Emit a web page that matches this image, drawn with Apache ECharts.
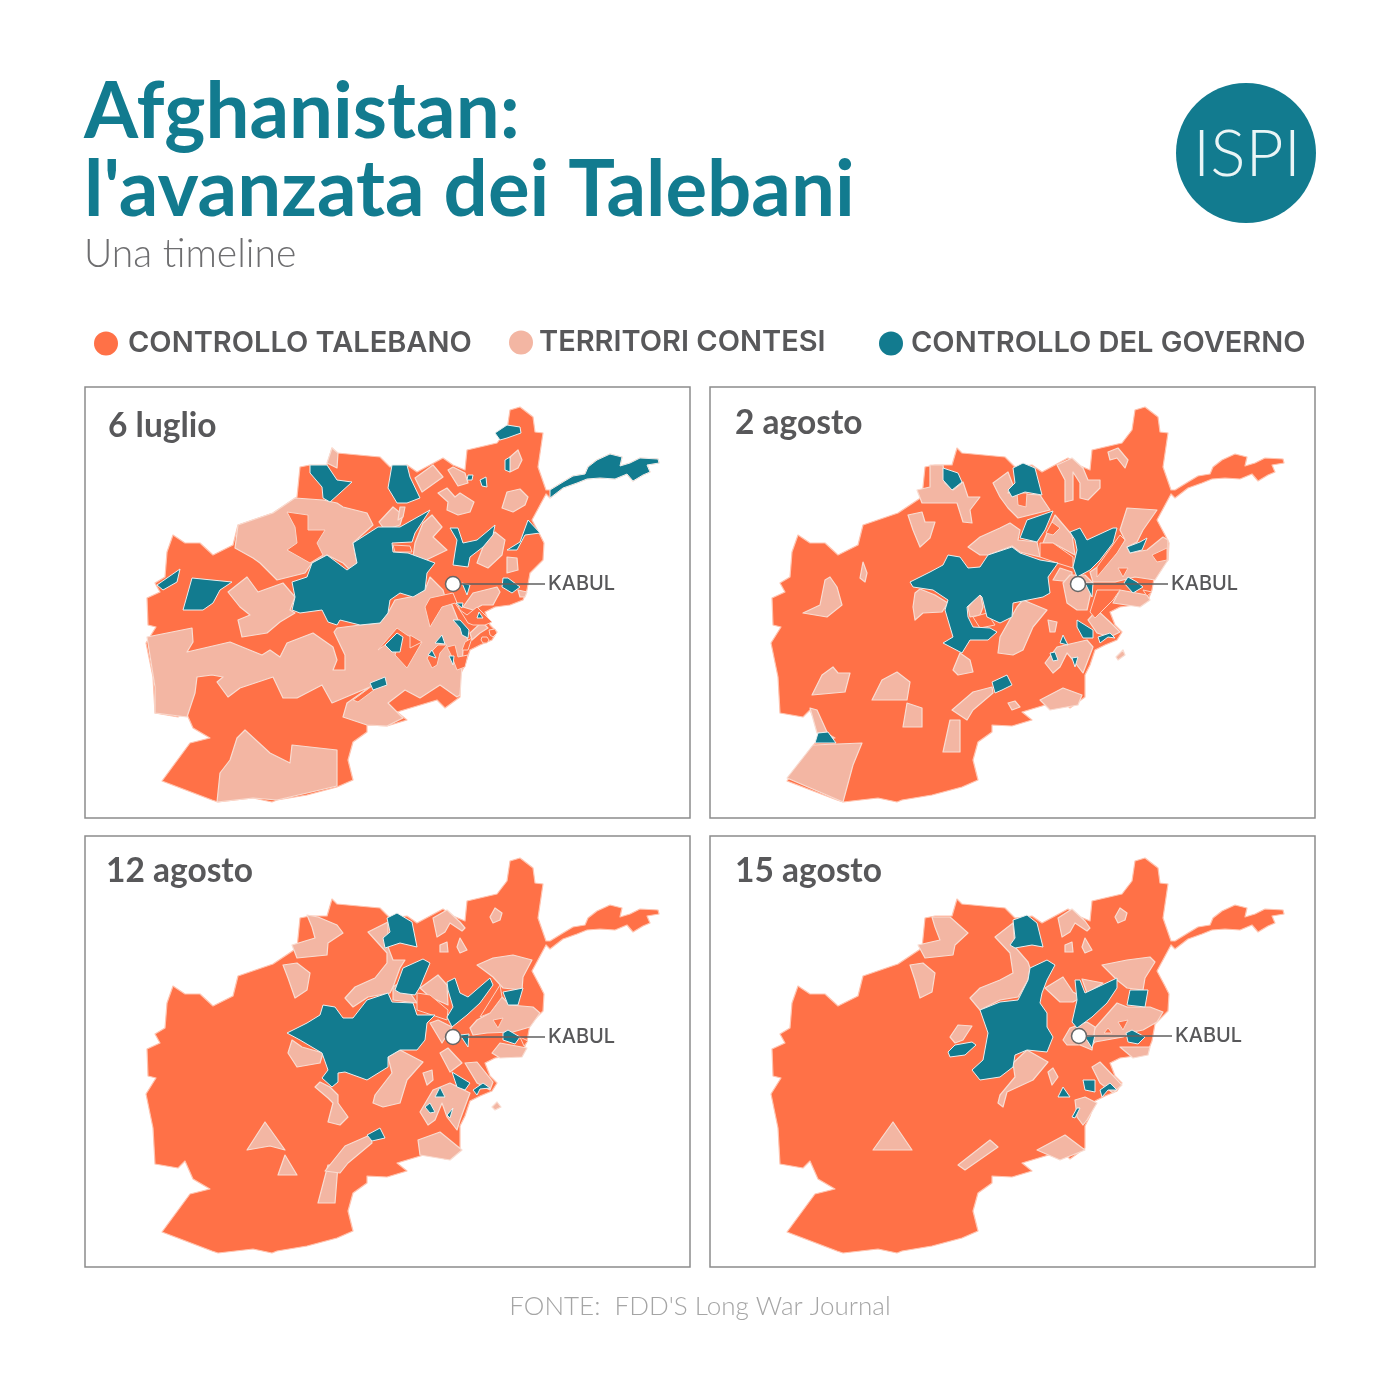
<!DOCTYPE html>
<html><head><meta charset="utf-8">
<style>html,body{margin:0;padding:0;background:#fff}#c{width:1400px;height:1400px}</style>
<script src="https://cdn.jsdelivr.net/npm/echarts@6/dist/echarts.min.js"></script>
</head><body><div id="c"></div>
<script>
const TITLE = "Afghanistan:\nl'avanzata dei Talebani";
const SUBTITLE = "Una timeline";
const SOURCE = "FONTE:  FDD'S Long War Journal";
const STATUS_NAMES = ["CONTROLLO TALEBANO","TERRITORI CONTESI","CONTROLLO DEL GOVERNO"];
const DATES = ["6 luglio","2 agosto","12 agosto","15 agosto"];

// Shared country outline, map units
const outline = [[510,410],[520,407],[533,417],[535,432],[543,433],[538,467],[546,490],[550,490],[563,482],[573,476],[585,474],[588,467],[597,460],[610,454],[622,457],[620,466],[630,463],[640,458],[658,459],[659,463],[647,465],[650,472],[643,475],[633,481],[627,474],[615,479],[600,478],[587,479],[577,483],[563,488],[550,498],[546,494],[532,520],[540,535],[544,543],[543,560],[530,573],[527,590],[523,600],[510,605],[495,607],[485,612],[490,625],[497,632],[492,640],[480,645],[470,650],[465,665],[460,675],[460,697],[445,708],[437,700],[397,712],[407,720],[387,726],[367,725],[367,732],[353,742],[348,760],[353,780],[337,787],[307,795],[277,800],[272,802],[253,798],[218,802],[212,800],[162,781],[190,743],[210,738],[193,728],[185,710],[178,717],[155,713],[153,677],[146,643],[156,627],[148,625],[147,598],[160,592],[155,583],[165,577],[167,552],[173,535],[185,543],[200,543],[213,555],[233,545],[238,525],[273,513],[297,497],[300,467],[310,465],[327,465],[332,448],[337,453],[380,457],[390,467],[407,465],[417,472],[443,458],[453,465],[465,470],[467,450],[497,443],[507,430]];

// 6 luglio
const jul6Contested = [
 [[147,637],[192,628],[193,642],[187,652],[230,642],[262,655],[270,650],[280,657],[287,643],[313,633],[333,647],[337,660],[333,670],[345,670],[345,655],[334,632],[337,628],[360,625],[380,623],[388,613],[395,600],[410,597],[425,590],[430,577],[443,590],[445,597],[452,605],[460,625],[468,640],[463,650],[462,665],[460,695],[457,697],[440,685],[420,698],[405,690],[388,703],[403,718],[387,726],[367,725],[343,717],[347,703],[370,687],[332,703],[322,685],[297,698],[283,698],[273,677],[240,688],[228,697],[217,682],[223,677],[212,675],[197,677],[195,693],[187,717],[155,713],[155,687]],
 [[245,730],[237,738],[230,760],[220,773],[217,802],[253,798],[277,800],[337,786],[337,750],[292,745],[290,763],[270,753]],
 [[238,525],[273,513],[295,498],[323,500],[337,503],[343,507],[367,513],[373,525],[353,543],[357,563],[350,570],[343,563],[327,555],[312,563],[305,573],[277,580],[260,563],[253,558],[235,548]],
 [[327,463],[332,448],[338,453],[337,468]],
 [[228,592],[247,577],[258,592],[283,583],[295,597],[290,610],[295,613],[280,622],[267,633],[242,637],[238,620],[250,615],[240,607]],
 [[379,522],[393,507],[403,515],[400,525],[385,530]],
 [[400,507],[405,507],[403,517],[398,520]],
 [[415,478],[433,465],[443,477],[422,492]],
 [[448,470],[453,467],[465,473],[468,483],[458,486]],
 [[438,493],[447,488],[455,497],[460,493],[474,502],[470,512],[458,515],[447,510],[448,502]],
 [[502,508],[507,492],[520,489],[528,497],[525,505],[513,512]],
 [[507,468],[510,457],[518,450],[522,460],[518,468],[510,472]],
 [[432,515],[442,527],[433,537],[447,550],[420,563],[413,557],[415,543],[423,523]],
 [[495,532],[505,540],[502,555],[488,568],[477,563],[483,547]],
 [[507,557],[517,558],[518,570],[507,573]],
 [[463,607],[473,593],[497,587],[500,592],[493,605],[482,605],[473,610]],
 [[518,590],[527,592],[525,597],[520,597]],
 [[470,633],[482,622],[488,628],[480,633],[472,640]]
];
const jul6Taliban = [
 [[287,512],[308,515],[308,530],[325,530],[317,543],[323,555],[310,563],[287,550],[297,543],[295,527]],
 [[333,572],[342,572],[342,587],[333,592],[325,585]],
 [[393,545],[410,546],[412,552],[395,552]],
 [[378,650],[397,628],[407,635],[422,642],[407,668],[395,655],[400,640],[385,645]],
 [[410,635],[422,642],[410,648]],
 [[353,700],[372,686],[374,690],[358,702]],
 [[425,607],[430,598],[453,593],[460,610],[467,615],[477,607],[492,622],[485,625],[473,625],[468,623],[463,615],[455,603],[442,607],[430,627]],
 [[465,642],[472,638],[468,650],[462,650]],
 [[447,647],[455,645],[458,657],[468,655],[465,667],[457,670],[452,657]],
 [[427,658],[433,650],[438,645],[447,645],[440,653],[437,665],[432,668]],
 [[482,637],[487,637],[489,640],[487,643],[483,643],[481,640]],
 [[489,630],[495,629],[497,633],[493,637],[490,635]]
];
const jul6Gov = [
 [[378,527],[353,543],[357,563],[347,570],[327,555],[312,563],[307,577],[292,582],[295,597],[292,610],[300,613],[322,610],[328,622],[337,625],[340,620],[360,625],[380,623],[388,613],[390,600],[400,593],[413,597],[425,590],[427,573],[435,563],[408,553],[393,552],[392,543],[412,542],[415,533],[430,510],[400,527]],
 [[310,465],[327,465],[337,480],[352,482],[340,493],[330,502],[323,498],[322,487],[310,473]],
 [[392,465],[407,465],[410,477],[420,498],[407,503],[397,503],[388,488]],
 [[183,610],[192,578],[232,582],[220,590],[213,603],[203,610]],
 [[157,585],[180,569],[177,582],[163,590]],
 [[385,645],[397,633],[403,637],[400,652],[392,652]],
 [[370,683],[385,677],[387,685],[373,690]],
 [[495,433],[507,425],[520,427],[521,433],[507,438],[500,440]],
 [[505,460],[510,457],[510,472],[505,470]],
 [[468,475],[473,475],[472,480],[467,480]],
 [[480,480],[486,477],[487,487],[482,486]],
 [[450,528],[458,528],[463,543],[477,540],[495,525],[493,535],[483,547],[470,557],[468,567],[453,565],[455,552],[457,540]],
 [[507,550],[520,542],[528,520],[540,533],[525,535],[517,550]],
 [[462,583],[470,585],[467,595]],
 [[503,578],[508,578],[520,587],[512,593],[502,587]],
 [[456,603],[463,603],[462,608]],
 [[453,620],[460,620],[469,630],[468,638],[462,635],[460,628]],
 [[477,618],[479,612],[483,618]],
 [[435,643],[442,635],[445,644]],
 [[428,655],[432,650],[436,658]],
 [[449,656],[454,656],[453,665]],
 [[550,490],[563,482],[573,476],[585,474],[588,467],[597,460],[610,454],[622,457],[620,466],[630,463],[640,458],[658,459],[659,463],[647,465],[650,472],[643,475],[633,481],[627,474],[615,479],[600,478],[587,479],[577,483],[563,488],[550,498]]
];

// 2 agosto
const aug2Contested = [
 [[162,778],[188,745],[237,743],[228,765],[218,802]],
 [[185,708],[192,710],[202,732],[192,733]],
 [[178,613],[195,605],[200,580],[205,577],[212,587],[217,605],[202,617]],
 [[235,578],[238,562],[242,573],[240,582]],
 [[187,695],[197,675],[208,667],[213,673],[225,673],[220,692]],
 [[247,700],[257,680],[272,672],[285,682],[282,700]],
 [[278,727],[282,703],[297,708],[297,727]],
 [[318,752],[325,720],[335,720],[335,752]],
 [[327,710],[348,692],[367,687],[368,693],[348,710],[342,720]],
 [[383,703],[390,701],[395,707],[387,710]],
 [[415,700],[438,688],[457,695],[453,705],[425,710]],
 [[290,593],[295,589],[310,595],[323,603],[317,612],[298,613],[290,620],[288,607]],
 [[343,607],[355,593],[358,607],[355,615],[345,617]],
 [[373,653],[375,637],[392,607],[398,600],[422,610],[408,627],[398,650],[388,655]],
 [[343,547],[355,537],[375,528],[385,523],[395,530],[393,540],[412,542],[415,557],[395,552],[387,546],[363,555],[355,555]],
 [[422,533],[430,515],[447,535],[450,555],[428,543],[418,543]],
 [[435,568],[447,572],[447,582],[428,580]],
 [[368,483],[383,472],[388,485],[383,493],[415,495],[425,510],[405,515],[393,518],[383,508],[375,497]],
 [[305,465],[318,465],[320,483],[328,490],[338,482],[343,497],[355,497],[345,510],[347,523],[338,522],[332,503],[297,503],[292,490],[305,487]],
 [[283,515],[297,512],[300,522],[310,522],[305,538],[295,547],[288,530]],
 [[432,465],[447,458],[458,468],[463,480],[475,480],[475,488],[463,500],[455,498],[455,483],[448,472],[448,500],[440,502],[440,480]],
 [[483,452],[493,448],[503,460],[500,468],[492,458],[485,460]],
 [[495,530],[502,508],[532,510],[518,530],[512,542],[502,547],[505,553],[522,550],[538,537],[543,540],[543,560],[530,580],[510,577],[490,582],[468,582],[465,572],[490,555],[500,540]],
 [[438,583],[445,575],[460,575],[468,583],[462,610],[452,610],[442,603]],
 [[488,603],[495,590],[522,595],[525,600],[515,607]],
 [[463,620],[472,610],[485,622],[495,632],[485,637],[472,633]],
 [[420,663],[432,647],[462,640],[468,647],[458,673],[448,660],[442,653],[435,667],[428,673]],
 [[423,620],[432,622],[430,632],[425,632]],
 [[491,657],[498,650],[500,655],[493,660]],
 [[328,670],[335,653],[345,660],[348,672],[333,675]]
];
const aug2Taliban = [
 [[323,582],[340,570],[337,593],[325,590]],
 [[348,617],[362,613],[370,625],[355,628]],
 [[415,543],[428,543],[448,557],[448,568],[432,563],[415,557]],
 [[427,522],[435,528],[428,535],[421,533]],
 [[392,493],[402,493],[401,507],[393,505]],
 [[472,567],[495,535],[500,540],[492,553],[472,577]],
 [[527,555],[542,548],[542,560],[532,562]],
 [[493,568],[503,568],[498,577]],
 [[518,590],[527,592],[522,596]],
 [[465,612],[472,590],[495,590],[488,600],[470,618]]
];
const aug2Gov = [
 [[285,582],[305,572],[318,565],[323,555],[335,557],[343,568],[355,567],[363,555],[387,547],[395,553],[415,560],[433,563],[423,577],[425,593],[418,597],[388,603],[387,617],[375,623],[362,617],[357,597],[355,595],[342,607],[343,617],[348,627],[365,628],[372,632],[363,640],[345,640],[337,653],[318,643],[328,637],[320,610],[323,600],[308,590],[288,587]],
 [[395,538],[402,520],[428,511],[420,530],[412,542]],
 [[388,468],[398,463],[410,468],[417,495],[400,492],[387,497],[383,490],[390,483]],
 [[318,468],[333,473],[337,482],[327,490],[318,480]],
 [[445,532],[455,528],[462,540],[488,528],[492,528],[488,543],[475,560],[465,570],[452,577],[448,567],[452,550],[450,540]],
 [[502,547],[515,542],[522,538],[517,550],[505,553]],
 [[499,583],[503,577],[512,582],[518,587],[508,593]],
 [[460,583],[468,583],[467,597]],
 [[452,620],[468,630],[468,638],[458,638],[452,627]],
 [[473,637],[485,633],[490,638],[483,637],[475,643]],
 [[435,643],[438,635],[443,645]],
 [[425,653],[430,652],[433,660],[428,661]],
 [[447,658],[453,657],[450,667]],
 [[367,682],[382,675],[387,685],[377,690],[370,693]],
 [[190,743],[193,733],[203,732],[211,743]]
];

// 12 agosto
const aug12Contested = [
 [[345,547],[355,536],[375,527],[387,512],[387,502],[368,481],[388,471],[388,496],[393,509],[405,509],[400,517],[393,536],[390,542],[368,546],[353,556]],
 [[393,536],[402,530],[417,552],[393,549]],
 [[307,464],[318,466],[337,474],[343,482],[328,492],[327,504],[297,507],[292,494],[315,487],[312,476]],
 [[283,514],[297,512],[310,522],[307,539],[295,547],[288,527]],
 [[433,467],[447,459],[460,471],[465,477],[462,480],[450,472],[445,481],[437,486]],
 [[440,494],[447,491],[448,501],[440,501]],
 [[457,496],[460,487],[467,499],[460,502]],
 [[490,466],[495,457],[502,462],[500,469],[493,472]],
 [[477,514],[493,507],[513,504],[532,509],[523,526],[522,539],[503,537],[493,526]],
 [[470,577],[477,569],[490,562],[502,546],[510,554],[533,556],[540,562],[530,576],[513,581],[487,582],[473,584]],
 [[492,602],[500,592],[527,597],[522,606],[500,607]],
 [[420,537],[438,524],[447,534],[448,554],[430,546]],
 [[430,572],[438,569],[452,576],[442,592]],
 [[440,602],[448,597],[462,612],[450,621]],
 [[465,612],[477,611],[493,631],[490,639],[477,632]],
 [[423,622],[432,619],[433,629],[427,634]],
 [[420,661],[433,639],[450,632],[470,642],[460,669],[457,679],[447,666],[442,652],[435,669],[428,674]],
 [[492,656],[497,651],[501,656],[495,659]],
 [[315,636],[320,631],[330,636],[338,644],[338,652],[348,666],[340,674],[328,671],[333,652],[328,647]],
 [[373,652],[375,644],[392,622],[388,606],[400,599],[423,611],[407,629],[400,652],[383,656]],
 [[288,602],[292,589],[302,596],[323,602],[320,612],[297,616]],
 [[325,582],[335,574],[345,574],[338,589],[332,592]],
 [[247,699],[265,671],[285,699],[270,695]],
 [[278,724],[285,704],[297,724]],
 [[318,752],[328,714],[338,714],[335,752]],
 [[325,720],[345,695],[370,684],[372,692],[348,712],[340,722]],
 [[418,689],[440,681],[462,699],[450,709],[420,704]]
];
const aug12Taliban = [
 [[417,542],[430,544],[448,559],[447,569],[417,559]],
 [[480,566],[500,534],[502,546],[490,562]],
 [[493,569],[503,567],[498,577]],
 [[520,586],[528,590],[524,595]]
];
const aug12Gov = [
 [[287,582],[307,572],[320,564],[323,554],[335,556],[343,567],[353,567],[367,549],[388,542],[392,551],[413,552],[417,564],[435,564],[427,572],[425,589],[417,599],[400,599],[388,606],[388,616],[367,629],[345,621],[338,622],[338,631],[332,636],[322,627],[328,619],[322,602],[300,589]],
 [[395,539],[403,517],[423,508],[430,512],[420,536],[415,544],[400,542]],
 [[387,467],[397,462],[412,471],[417,496],[400,492],[385,497],[383,487],[390,481]],
 [[447,531],[455,527],[460,542],[468,546],[490,527],[493,534],[480,552],[467,564],[452,576],[447,566],[453,556],[448,539]],
 [[503,541],[523,537],[518,554],[508,554]],
 [[503,582],[508,579],[520,586],[515,593],[503,589]],
 [[460,584],[469,583],[468,596]],
 [[452,621],[470,632],[465,639],[457,636]],
 [[473,639],[483,632],[490,637],[480,638],[477,644]],
 [[425,656],[430,652],[435,661],[430,662]],
 [[435,646],[440,636],[445,646]],
 [[447,664],[453,657],[450,667]],
 [[367,684],[380,677],[385,687],[372,690]]
];

// 15 agosto
const aug15Contested = [
 [[345,547],[355,537],[375,529],[388,522],[385,502],[370,486],[388,472],[390,496],[403,511],[405,517],[403,529],[393,546],[375,549],[355,559]],
 [[307,466],[325,466],[343,482],[330,494],[328,504],[300,507],[293,494],[315,489],[310,476]],
 [[285,514],[298,512],[310,522],[307,541],[295,547],[290,529]],
 [[325,586],[333,574],[347,575],[338,589],[330,592]],
 [[373,652],[375,644],[390,626],[388,612],[402,599],[423,611],[408,629],[382,641],[378,656]],
 [[420,537],[438,526],[448,541],[457,546],[448,551],[435,551]],
 [[457,528],[478,532],[462,542]],
 [[477,514],[502,509],[525,506],[530,511],[520,527],[518,539],[502,537],[492,529]],
 [[470,577],[492,552],[502,556],[525,556],[538,561],[532,571],[518,579],[508,581],[498,586],[470,591],[465,596]],
 [[495,596],[525,596],[523,604],[508,607]],
 [[438,589],[445,577],[462,571],[470,576],[467,599],[455,594],[442,594]],
 [[423,621],[428,617],[433,626],[427,634]],
 [[467,616],[475,611],[497,634],[488,642],[475,632]],
 [[450,649],[460,646],[472,652],[462,669],[458,674],[452,666]],
 [[433,467],[447,458],[460,470],[465,477],[462,480],[450,472],[445,481],[437,486]],
 [[440,494],[447,491],[448,501],[440,501]],
 [[457,496],[460,487],[467,499],[460,502]],
 [[490,466],[495,457],[502,462],[500,469],[493,472]],
 [[248,699],[268,671],[287,699]],
 [[333,714],[365,689],[373,696],[340,719]],
 [[412,699],[440,684],[460,699],[435,709]]
];
const aug15Taliban = [
 [[388,572],[398,566],[412,571],[413,581],[395,579]],
 [[493,571],[503,569],[498,579]],
 [[479,582],[483,577],[487,582]]
];
const aug15Gov = [
 [[430,514],[422,509],[405,517],[403,529],[393,549],[375,551],[355,559],[363,582],[358,609],[347,619],[355,629],[375,626],[388,616],[390,604],[402,599],[422,601],[428,586],[422,576],[422,562],[415,552],[417,542],[422,529]],
 [[388,469],[402,464],[412,472],[418,496],[407,494],[390,497],[385,494],[390,487]],
 [[323,601],[330,594],[347,591],[351,594],[340,604],[325,606]],
 [[450,529],[455,529],[460,542],[492,527],[492,537],[482,552],[467,566],[452,577],[447,571],[452,549]],
 [[505,539],[523,539],[520,556],[502,554]],
 [[501,582],[507,579],[520,586],[513,593],[503,591]],
 [[460,586],[470,584],[467,597]],
 [[458,629],[470,629],[470,641],[460,639]],
 [[475,639],[485,632],[492,639],[483,639],[477,646]],
 [[433,646],[438,636],[445,646]],
 [[447,666],[452,657],[455,657],[450,667]]
];

const panelContested = [jul6Contested, aug2Contested, aug12Contested, aug15Contested];
const panelTaliban = [jul6Taliban, aug2Taliban, aug12Taliban, aug15Taliban];
const panelGov = [jul6Gov, aug2Gov, aug12Gov, aug15Gov];
const kabulPoint = [[453,584],[453,584],[453,586],[454,585]];
const kabulLabelEnd = [[545,584],[543,584],[545,586],[547,585]];

const COL = {tal:'#FF7147', con:'#F3B6A3', gov:'#127B8F'};
const PANELS = [{x:85,y:387,dx:0,dy:0},{x:710,y:387,dx:625,dy:0},{x:85,y:836,dx:0,dy:451},{x:710,y:836,dx:625,dy:451}];
const DATE_POS = [[108,426],[735,423],[106,871],[735,871]];
const FRAME = {x:85,y:387,w:605,h:431};

function buildMap(i){
  const feats=[], regions=[];
  const add=(name,poly,color,stroke,w)=>{
    const ring = poly.map(p=>[p[0],-p[1]]); ring.push(ring[0]);
    feats.push({type:'Feature',properties:{name},geometry:{type:'Polygon',coordinates:[ring]}});
    regions.push({name,itemStyle:{areaColor:color,borderColor:stroke,borderWidth:w,borderJoin:'round'}});
  };
  add('base',outline,COL.tal,'#FFC4B0',1.2);
  panelContested[i].forEach((p,k)=>add('c'+k,p,COL.con,'#F9DCD1',1.2));
  panelTaliban[i].forEach((p,k)=>add('t'+k,p,COL.tal,'#FBD3C5',1));
  panelGov[i].forEach((p,k)=>add('g'+k,p,COL.gov,'#E9EFEF',1));
  echarts.registerMap('afg'+i,{type:'FeatureCollection',features:feats});
  return regions;
}

const geos=[], series=[], graphic=[];
PANELS.forEach((P,i)=>{
  const regions=buildMap(i);
  geos.push({map:'afg'+i,silent:true,roam:false,aspectScale:1,
    left:FRAME.x+P.dx,top:FRAME.y+P.dy,width:FRAME.w,height:FRAME.h,
    boundingCoords:[[FRAME.x,-FRAME.y],[FRAME.x+FRAME.w,-(FRAME.y+FRAME.h)]],
    label:{show:false},itemStyle:{areaColor:COL.tal,borderColor:'#fff',borderWidth:1},
    emphasis:{disabled:true},select:{disabled:true},regions});
  const k=kabulPoint[i], e=kabulLabelEnd[i];
  series.push({type:'lines',coordinateSystem:'geo',geoIndex:i,silent:true,z:5,
    lineStyle:{color:'#5f5f5f',width:1.5,opacity:1,curveness:0},
    label:{show:true,position:'end',distance:3,formatter:'KABUL',fontFamily:'Inter',fontSize:20,color:'#58585A',fontWeight:500,letterSpacing:-0.5,padding:[2,0,0,0]},
    data:[{coords:[[k[0],-k[1]],[e[0],-e[1]]]}]});
  series.push({type:'scatter',coordinateSystem:'geo',geoIndex:i,silent:true,z:6,symbol:'circle',symbolSize:15,
    itemStyle:{color:'#fff',borderColor:'#666',borderWidth:1.5,opacity:1},data:[[k[0],-k[1]]]});
  graphic.push({type:'rect',z:1,silent:true,shape:{x:P.x,y:P.y,width:605,height:431},style:{fill:'none',stroke:'#8C8C8C',lineWidth:1.5}});
  graphic.push({type:'text',z:20,silent:true,x:DATE_POS[i][0],y:DATE_POS[i][1],style:{text:DATES[i],font:'700 33.5px Lato',fill:'#58585A',textVerticalAlign:'middle'}});
});

// legend carrier series
[COL.tal,COL.con,COL.gov].forEach((c,i)=>series.push({type:'scatter',coordinateSystem:'geo',geoIndex:0,name:STATUS_NAMES[i],symbol:'circle',itemStyle:{color:c,opacity:1},data:[]}));
const legendAt=[[94,329],[509,328],[879,329]];
const legendGap=[5,1,3];
const legends=STATUS_NAMES.map((n,i)=>({data:[n],left:legendAt[i][0],top:legendAt[i][1],orient:'horizontal',icon:'circle',itemWidth:24,itemHeight:24,itemGap:0,padding:0,selectedMode:false,
  itemStyle:{opacity:1},
  textStyle:{fontFamily:'Inter',fontWeight:600,fontSize:29,color:'#58585A',padding:[7,0,0,legendGap[i]]}}));

graphic.push({type:'circle',z:2,silent:true,shape:{cx:1246,cy:153,r:70},style:{fill:'#127B8F'}});
graphic.push({type:'text',z:3,silent:true,x:1247,y:155,style:{text:'ISPI',font:'300 66px Lato',fill:'#EAF5F6',textAlign:'center',textVerticalAlign:'middle'}});
graphic.push({type:'text',z:3,silent:true,x:84,y:254,style:{text:SUBTITLE,font:'300 39px Lato',fill:'#6E6E70',textVerticalAlign:'middle'}});
graphic.push({type:'text',z:3,silent:true,x:700,y:1307,style:{text:SOURCE,font:'300 26px Lato',fill:'#A5A5A5',textAlign:'center',textVerticalAlign:'middle'}});

const chart=echarts.init(document.getElementById('c'),null,{renderer:'canvas',width:1400,height:1400});
chart.setOption({animation:false,backgroundColor:'#fff',
  title:{text:TITLE,left:79,top:69,textStyle:{fontFamily:'Lato',fontWeight:700,fontSize:78,lineHeight:78,color:'#127B8F'}},
  legend:legends,geo:geos,series,graphic,tooltip:{show:false}});
</script></body></html>
